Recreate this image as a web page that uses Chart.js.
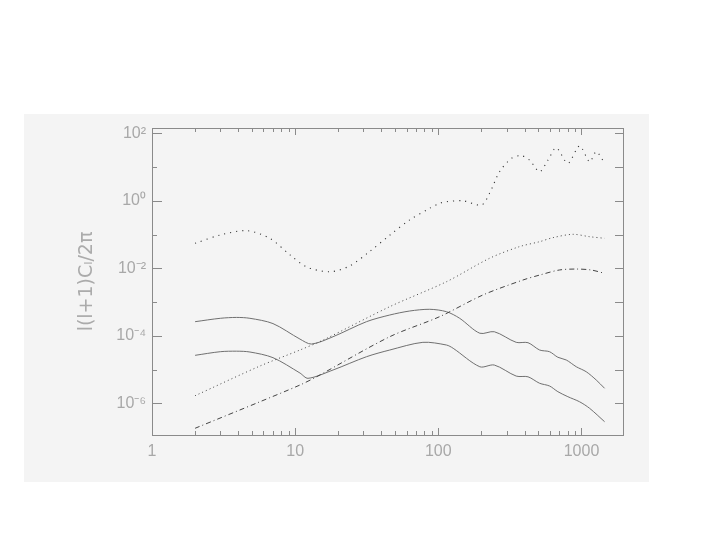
<!DOCTYPE html>
<html><head><meta charset="utf-8">
<script src="https://cdn.jsdelivr.net/npm/chart.js@4/dist/chart.umd.min.js"></script>
<style>html,body{margin:0;padding:0;background:#fff}</style>
</head><body>
<canvas id="c" width="720" height="540"></canvas>
<script>
// ---- data (multipole l and l(l+1)C_l/2pi) ----
const ttL = [2, 3, 4.6, 6.65, 9.2, 12, 17.5, 24, 33, 46, 63, 87, 102, 114, 149, 200, 228, 268, 324, 380, 434, 510, 583, 667, 804, 970, 1140, 1268, 1449];
const ttV = [0.055, 0.097, 0.13, 0.077, 0.025, 0.011, 0.0079, 0.0117, 0.031, 0.097, 0.27, 0.60, 0.84, 0.94, 1.0, 0.75, 1.67, 7.3, 18, 21.7, 16, 7.3, 16, 37, 13, 42, 14.4, 28.5, 13];

const eeL = [2, 5.67, 10.8, 15.7, 45.8, 114, 228, 368, 510, 630, 870, 1140, 1450];
const eeV = [1.68e-6, 1.27e-5, 3.79e-5, 7.5e-5, 7.3e-4, 4.0e-3, 0.0198, 0.0437, 0.0614, 0.0807, 0.1016, 0.0863, 0.0774];

const ddL = [2, 5.67, 10.8, 14.1, 45.8, 102, 205, 390, 510, 700, 920, 1170, 1450];
const ddV = [1.82e-7, 1.11e-6, 3.48e-6, 6.1e-6, 9.4e-5, 3.68e-4, 1.62e-3, 4.5e-3, 6.3e-3, 8.9e-3, 9.5e-3, 8.9e-3, 7.1e-3];

const s1L = [2, 3, 3.9, 4.83, 7, 10.8, 13, 18.4, 31.5, 45.8, 63.2, 87.1, 114, 141, 195, 246, 350, 423, 510, 598, 684, 783, 920, 1080, 1268, 1450];
const s1V = [2.62e-4, 3.3e-4, 3.5e-4, 3.3e-4, 2.3e-4, 8.0e-5, 5.7e-5, 9.4e-5, 2.62e-4, 4.13e-4, 5.43e-4, 6.1e-4, 5.18e-4, 3.3e-4, 1.19e-4, 1.32e-4, 6.4e-5, 6.25e-5, 3.79e-5, 3.38e-5, 2.31e-5, 1.92e-5, 1.21e-5, 8.6e-6, 4.9e-6, 2.78e-6];

const s2L = [2, 3, 3.9, 4.83, 7, 10.8, 12.3, 18.4, 31.5, 45.8, 78, 114, 127, 195, 246, 350, 423, 510, 598, 684, 803, 970, 1140, 1450];
const s2V = [2.64e-5, 3.38e-5, 3.5e-5, 3.31e-5, 2.25e-5, 7.9e-6, 5.5e-6, 9.7e-6, 2.4e-5, 3.79e-5, 6.4e-5, 5.33e-5, 4.26e-5, 1.21e-5, 1.36e-5, 6.4e-6, 6.1e-6, 3.92e-6, 3.26e-6, 2.21e-6, 1.57e-6, 1.11e-6, 7.1e-7, 2.85e-7];

const xTickValues = [1, 10, 100, 1000];
const xTickLabels = ['1', '10', '100', '1000'];
const yTickValues = [1e2, 1e0, 1e-2, 1e-4, 1e-6];
const yTickLabels = ['10\u00B2', '10\u2070', '10\u207B\u00B2', '10\u207B\u2074', '10\u207B\u2076'];
const yTitle = 'l(l+1)C\u2097/2\u03C0';

const pts = (L, V) => L.map((l, i) => ({x: l, y: V[i]}));

const panelBg = {
  id: 'panelBg',
  beforeDraw(chart) {
    const ctx = chart.ctx;
    ctx.save();
    ctx.fillStyle = '#f4f4f4';
    ctx.fillRect(24, 114, 625, 368);
    ctx.restore();
  }
};

const boxTicks = {
  id: 'boxTicks',
  afterDatasetsDraw(chart) {
    const {ctx, chartArea: a, scales} = chart;
    const xs = scales.x, ys = scales.y;
    ctx.save();
    ctx.strokeStyle = '#8a8a8a';
    ctx.lineWidth = 1;
    ctx.strokeRect(a.left + 0.5, a.top + 0.5, a.right - a.left, a.bottom - a.top);
    ctx.beginPath();
    for (let d = 1; d <= 1000; d *= 10) {
      for (let m = 1; m <= 9; m++) {
        const v = d * m;
        if (v > xs.max) break;
        const px = Math.round(xs.getPixelForValue(v)) + 0.5;
        const len = m === 1 ? 7 : 4;
        ctx.moveTo(px, a.bottom); ctx.lineTo(px, a.bottom - len);
        ctx.moveTo(px, a.top); ctx.lineTo(px, a.top + len);
      }
    }
    for (let e = 2; e >= -6; e--) {
      const py = Math.round(ys.getPixelForValue(Math.pow(10, e))) + 0.5;
      const len = (e % 2 === 0) ? 10 : 5;
      ctx.moveTo(a.left, py); ctx.lineTo(a.left + len, py);
      ctx.moveTo(a.right, py); ctx.lineTo(a.right - 8, py);
    }
    ctx.stroke();
    ctx.restore();
  }
};

const labelFont = {family: "'Liberation Sans', Arial, sans-serif", size: 16};

new Chart(document.getElementById('c'), {
  type: 'line',
  data: {
    datasets: [
      {data: pts(ttL, ttV), borderColor: '#333', borderWidth: 1.1, borderDash: [1.1, 5], tension: 0.3},
      {data: pts(eeL, eeV), borderColor: '#444', borderWidth: 1, borderDash: [1, 3], tension: 0.3},
      {data: pts(ddL, ddV), borderColor: '#444', borderWidth: 1, borderDash: [5, 3, 1, 3], tension: 0.3},
      {data: pts(s1L, s1V), borderColor: '#707070', borderWidth: 1, tension: 0.3},
      {data: pts(s2L, s2V), borderColor: '#707070', borderWidth: 1, tension: 0.3}
    ]
  },
  options: {
    responsive: false,
    animation: false,
    elements: {point: {radius: 0}},
    layout: {padding: {left: 76, top: 128, right: 97, bottom: 75}},
    plugins: {legend: {display: false}, tooltip: {enabled: false}},
    scales: {
      x: {
        type: 'logarithmic', min: 1, max: 1950,
        grid: {display: false, drawTicks: false},
        border: {display: false},
        afterBuildTicks: s => { s.ticks = xTickValues.map(v => ({value: v})); },
        afterFit: s => { s.height = 30; },
        ticks: {
          autoSkip: false, maxRotation: 0, padding: 7, color: '#a8a8a8', font: labelFont,
          callback: v => { const i = xTickValues.indexOf(v); return i >= 0 ? xTickLabels[i] : ''; }
        }
      },
      y: {
        type: 'logarithmic', min: 1.15e-7, max: 143.5,
        grid: {display: false, drawTicks: false},
        border: {display: false},
        afterBuildTicks: s => { s.ticks = yTickValues.map(v => ({value: v})); },
        afterFit: s => { s.width = 76; },
        title: {display: true, text: yTitle, color: '#ababab', font: {family: "'DejaVu Sans', sans-serif", size: 19}, padding: {top: 0, bottom: 0}},
        ticks: {
          autoSkip: false, padding: 6, color: '#a8a8a8', font: labelFont,
          callback: v => { const i = yTickValues.indexOf(v); return i >= 0 ? yTickLabels[i] : ''; }
        }
      }
    }
  },
  plugins: [panelBg, boxTicks]
});
</script>
</body></html>
